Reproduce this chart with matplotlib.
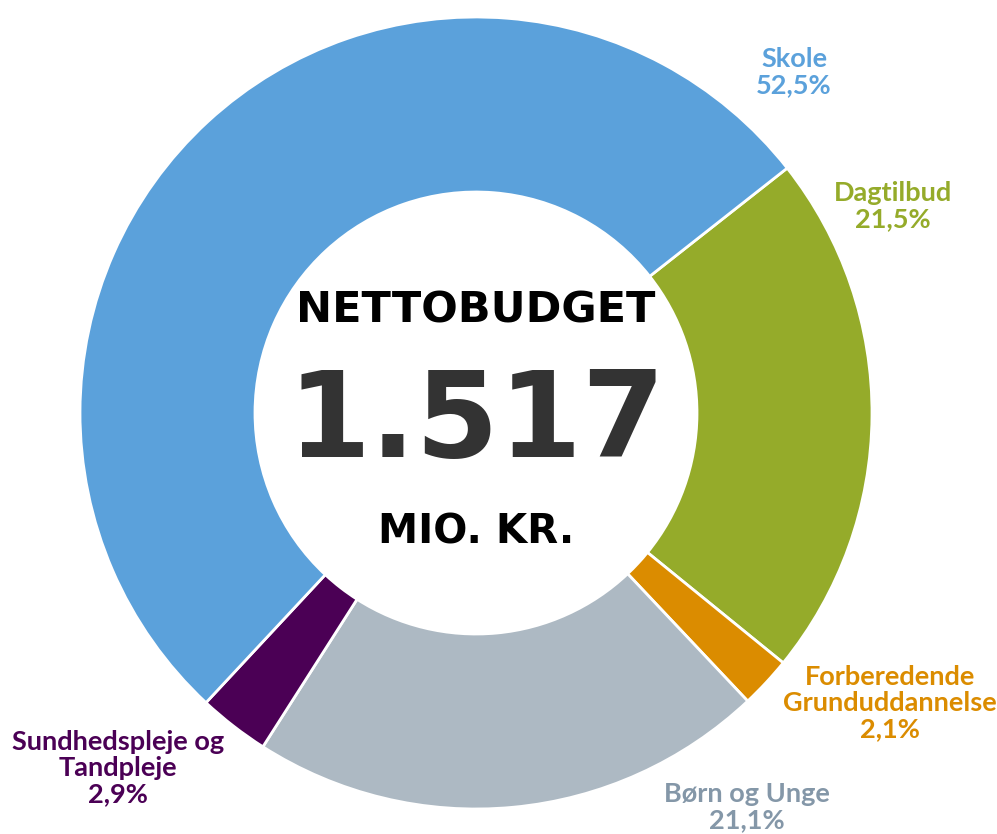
import matplotlib
matplotlib.use("Agg")
import matplotlib.pyplot as plt

categories = ["Dagtilbud", "Forberedende\nGrunduddannelse", "Børn og Unge", "Sundhedspleje og\nTandpleje", "Skole"]
shares = [21.5, 2.1, 21.1, 2.9, 52.5]
pct_labels = ["21,5%", "2,1%", "21,1%", "2,9%", "52,5%"]
colors = ["#95AB2A", "#DB8C00", "#ADB9C3", "#4B0055", "#5BA1DB"]
text_colors = ["#95AB2A", "#DB8C00", "#8497A8", "#4B0055", "#5BA1DB"]
total_label = "1.517"

W, H = 997, 834
fig = plt.figure(figsize=(W / 100, H / 100), dpi=100)
ax = fig.add_axes([0, 0, 1, 1])

cx, cy = 476, H - 413
R = 396
ax.pie(shares, colors=colors, startangle=38.2, counterclock=False,
       center=(cx, cy), radius=R, frame=True,
       wedgeprops=dict(width=175, edgecolor="white", linewidth=2))
ax.set_xlim(0, W)
ax.set_ylim(0, H)
ax.set_aspect("equal")
ax.axis("off")

label_pos = [(893, 206), (890, 703), (747, 807), (118, 768), (794, 72)]
for cat, pct, col, (x, y) in zip(categories, pct_labels, text_colors, label_pos):
    ax.text(x, H - y, cat + "\n" + pct, ha="center", va="center", color=col,
            fontsize=19.5, fontweight="bold", family=["Lato", "DejaVu Sans"],
            linespacing=1.12)

ax.text(cx, H - 310, "NETTOBUDGET", ha="center", va="center", fontsize=31,
        fontweight="bold", family="DejaVu Sans", color="black")
ax.text(cx, H - 424, total_label, ha="center", va="center", fontsize=86,
        fontweight="bold", family="DejaVu Sans", color="#333333")
ax.text(cx, H - 533, "MIO. KR.", ha="center", va="center", fontsize=29,
        fontweight="bold", family="DejaVu Sans", color="black")

fig.savefig("out.png", dpi=100, facecolor="white")
